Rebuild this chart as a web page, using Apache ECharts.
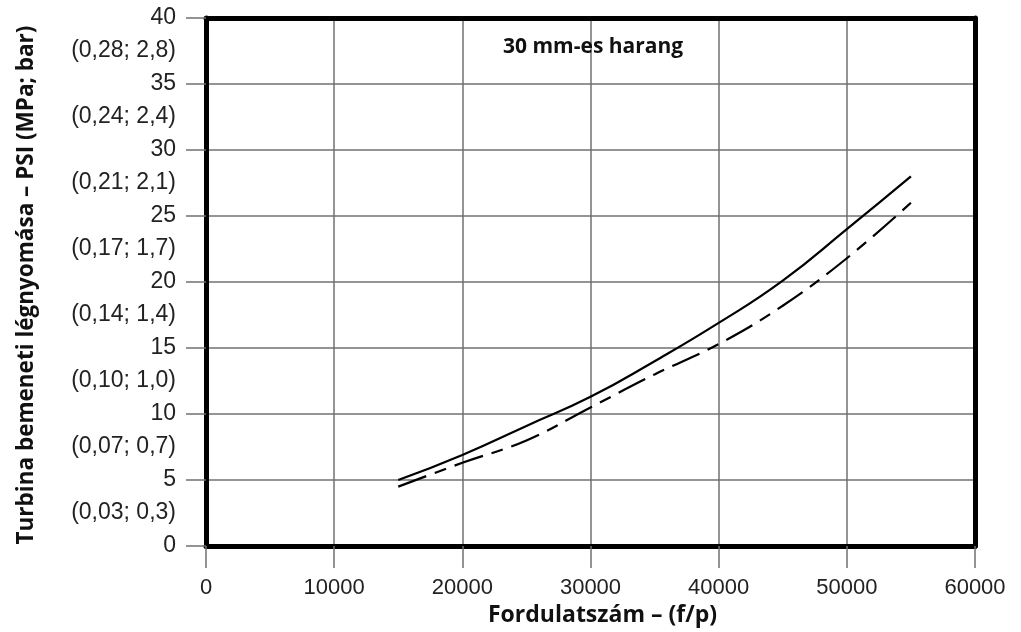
<!DOCTYPE html>
<html>
<head>
<meta charset="utf-8">
<script src="https://cdn.jsdelivr.net/npm/echarts@6/dist/echarts.min.js"></script>
<style>html,body{margin:0;padding:0;background:#fff}#c{width:1021px;height:632px}</style>
</head>
<body>
<div id="c"></div>
<script>
// ---- data ----
const chartTitle = '30 mm-es harang';
const xAxisName = 'Fordulatszám – (f/p)';
const yAxisName = 'Turbina bemeneti légnyomása – PSI (MPa; bar)';
const xTicks = [0, 10000, 20000, 30000, 40000, 50000, 60000];
const yTicks = [0, 5, 10, 15, 20, 25, 30, 35, 40];
const pressureMidValues = [2.5, 7.5, 12.5, 17.5, 22.5, 27.5, 32.5, 37.5];
const pressureMidLabels = ['(0,03; 0,3)', '(0,07; 0,7)', '(0,10; 1,0)', '(0,14; 1,4)', '(0,17; 1,7)', '(0,21; 2,1)', '(0,24; 2,4)', '(0,28; 2,8)'];
const solidRpm = [15000, 20000, 25000, 30000, 35000, 40000, 45000, 50000, 55000];
const solidPsi = [5.0, 6.9, 9.1, 11.3, 14.0, 16.9, 20.1, 24.0, 28.0];
const dashedRpm = [15000, 20000, 25000, 30000, 35000, 40000, 45000, 50000, 55000];
const dashedPsi = [4.5, 6.3, 8.0, 10.5, 13.0, 15.3, 18.2, 21.8, 26.0];

const tickFont = '"Liberation Sans", Arial, sans-serif';
const boldFont = '"Open Sans", sans-serif';
const gridGray = '#707070';

const midMap = {};
pressureMidValues.forEach((v, i) => { midMap[v.toFixed(1)] = pressureMidLabels[i]; });

const chart = echarts.init(document.getElementById('c'));
chart.setOption({
  animation: false,
  backgroundColor: '#fff',
  title: {
    text: chartTitle,
    left: 498, top: 32,
    textStyle: { fontFamily: boldFont, fontWeight: 'bold', fontSize: 21, color: '#111' }
  },
  grid: { left: 206, right: 46, top: 18, bottom: 86, containLabel: false },
  xAxis: [{
    type: 'value', min: xTicks[0], max: xTicks[xTicks.length - 1], interval: 10000,
    position: 'bottom',
    name: xAxisName, nameLocation: 'middle', nameGap: 54,
    nameTextStyle: { fontFamily: boldFont, fontWeight: 'bold', fontSize: 23, color: '#111', padding: [0, 0, 0, 24] },
    axisLine: { show: true, onZero: false, lineStyle: { color: '#000', width: 5 } },
    axisTick: { show: true, length: 22, lineStyle: { color: gridGray, width: 1.5 } },
    axisLabel: { margin: 31, fontFamily: tickFont, fontSize: 22, color: '#222', formatter: v => String(v) },
    splitLine: { show: true, lineStyle: { color: gridGray, width: 1.5 } }
  }, {
    type: 'value', min: 0, max: 60000, position: 'top',
    axisLine: { show: true, onZero: false, lineStyle: { color: '#000', width: 5 } },
    axisTick: { show: false }, axisLabel: { show: false }, splitLine: { show: false }
  }],
  yAxis: [{
    type: 'value', min: yTicks[0], max: yTicks[yTicks.length - 1], interval: 5,
    position: 'left',
    name: yAxisName, nameLocation: 'middle', nameGap: 168,
    nameTextStyle: { fontFamily: boldFont, fontWeight: 'bold', fontSize: 22.5, color: '#111', padding: [0, 6, 0, 0] },
    axisLine: { show: true, onZero: false, lineStyle: { color: '#000', width: 5 } },
    axisTick: { show: true, length: 20, lineStyle: { color: gridGray, width: 1.5 } },
    axisLabel: { margin: 30, fontFamily: tickFont, fontSize: 23, color: '#222', formatter: v => String(v) },
    splitLine: { show: true, lineStyle: { color: gridGray, width: 1.5 } }
  }, {
    type: 'value', min: 0, max: 40, interval: 2.5, position: 'left',
    axisLine: { show: false }, axisTick: { show: false }, splitLine: { show: false },
    axisLabel: {
      margin: 30, fontFamily: tickFont, fontSize: 23, color: '#222',
      formatter: v => midMap[Number(v).toFixed(1)] || ''
    }
  }, {
    type: 'value', min: 0, max: 40, position: 'right',
    axisLine: { show: true, onZero: false, lineStyle: { color: '#000', width: 5 } },
    axisTick: { show: false }, axisLabel: { show: false }, splitLine: { show: false }
  }],
  series: [{
    type: 'line', smooth: 0.5, showSymbol: false, symbol: 'none',
    data: solidRpm.map((x, i) => [x, solidPsi[i]]),
    lineStyle: { color: '#000', width: 2.2 }, z: 5
  }, {
    type: 'line', smooth: 0.4, showSymbol: false, symbol: 'none',
    data: dashedRpm.map((x, i) => [x, dashedPsi[i]]),
    lineStyle: { color: '#000', width: 2.2, type: [30, 9, 12, 9] }, z: 5
  }]
});
</script>
</body>
</html>
